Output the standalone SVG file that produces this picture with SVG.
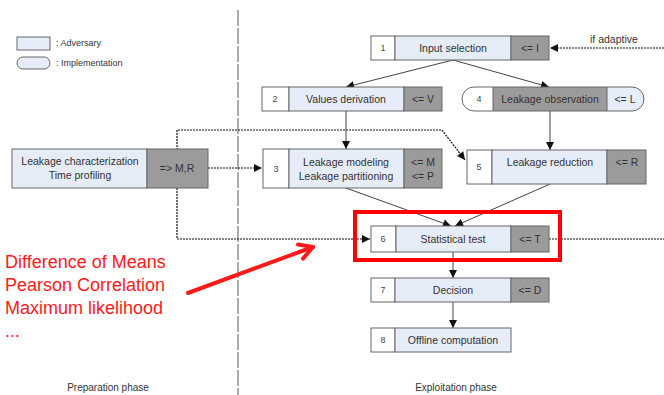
<svg xmlns="http://www.w3.org/2000/svg" width="664" height="395" viewBox="0 0 664 395">
<style>
text{font-family:"Liberation Sans",Arial,sans-serif;fill:#333}
.s{stroke:#666;stroke-width:1}
.w{fill:#fff}
.lt{fill:#e6ecf8}
.dk{fill:#9b9b9b}
.lbl{font-size:10.5px;text-anchor:middle}
.n{font-size:9px;text-anchor:middle;fill:#444}
.ln{stroke:#444;stroke-width:1;fill:none}
.dot{stroke:#111;stroke-width:1.2;stroke-dasharray:2 1;fill:none}
.red{fill:#ff1a1a;font-size:18px}
</style>
<defs>
<marker id="ah" viewBox="0 0 10 10" refX="10" refY="5" markerWidth="9" markerHeight="8" markerUnits="userSpaceOnUse" orient="auto">
<path d="M0,0 L10,5 L0,10 z" fill="#111"/>
</marker>
<clipPath id="pill"><rect x="462" y="87" width="182" height="24" rx="12"/></clipPath>
</defs>

<line x1="238" y1="10" x2="238" y2="395" stroke="#aaa" stroke-width="2" stroke-dasharray="16 2"/>

<g id="legend">
<rect x="17" y="37" width="33" height="13" class="lt s"/>
<text x="56" y="46" font-size="9">: Adversary</text>
<rect x="17" y="57" width="33" height="12" rx="6" class="lt s"/>
<text x="56" y="66" font-size="9">: Implementation</text>
</g>

<g id="connectors">
<path class="dot" d="M177,150 V130 H442 L465,160" marker-end="url(#ah)"/>
<path class="dot" d="M177,188 V239 H370" marker-end="url(#ah)"/>
<path class="dot" d="M208,168 H262" marker-end="url(#ah)"/>
<path class="dot" d="M549,239 H664"/>
<path class="dot" d="M664,48 H550" marker-end="url(#ah)"/>
<line class="ln" x1="453" y1="60" x2="346" y2="87" marker-end="url(#ah)"/>
<line class="ln" x1="453" y1="60" x2="549" y2="87" marker-end="url(#ah)"/>
<line class="ln" x1="346" y1="111" x2="346" y2="149" marker-end="url(#ah)"/>
<line class="ln" x1="550" y1="111" x2="550" y2="150" marker-end="url(#ah)"/>
<line class="ln" x1="346" y1="188" x2="451" y2="226" marker-end="url(#ah)"/>
<line class="ln" x1="550" y1="184" x2="455" y2="226" marker-end="url(#ah)"/>
<line class="ln" x1="453" y1="252" x2="453" y2="278" marker-end="url(#ah)"/>
<line class="ln" x1="453" y1="302" x2="453" y2="328" marker-end="url(#ah)"/>
</g>

<g id="prep">
<rect x="12" y="149" width="135" height="39" class="lt s"/>
<rect x="147" y="149" width="61" height="39" class="dk s"/>
<text class="lbl" x="80" y="165">Leakage characterization</text>
<text class="lbl" x="80" y="179">Time profiling</text>
<text class="lbl" x="177" y="172" font-size="10">=&gt; M,R</text>
</g>

<g id="node1">
<rect x="371" y="36" width="24" height="24" class="w s"/>
<rect x="395" y="36" width="116" height="24" class="lt s"/>
<rect x="511" y="36" width="38" height="24" class="dk s"/>
<text class="n" x="383" y="51">1</text>
<text class="lbl" x="453" y="52">Input selection</text>
<text class="lbl" x="530" y="52">&lt;= I</text>
</g>
<text x="590" y="43" font-size="10.5">if adaptive</text>

<g id="node2">
<rect x="262" y="87" width="27" height="24" class="w s"/>
<rect x="289" y="87" width="115" height="24" class="lt s"/>
<rect x="404" y="87" width="38" height="24" class="dk s"/>
<text class="n" x="275" y="102">2</text>
<text class="lbl" x="346" y="103">Values derivation</text>
<text class="lbl" x="423" y="103">&lt;= V</text>
</g>

<g id="node4">
<g clip-path="url(#pill)">
<rect x="462" y="87" width="31" height="24" class="w"/>
<rect x="493" y="87" width="114" height="24" class="dk"/>
<rect x="607" y="87" width="37" height="24" class="lt"/>
</g>
<line x1="493" y1="87" x2="493" y2="111" class="s"/>
<line x1="607" y1="87" x2="607" y2="111" class="s"/>
<rect x="462" y="87" width="182" height="24" rx="12" fill="none" class="s"/>
<text class="n" x="479" y="102">4</text>
<text class="lbl" x="550" y="103">Leakage observation</text>
<text class="lbl" x="625" y="103">&lt;= L</text>
</g>

<g id="node3">
<rect x="263" y="149" width="26" height="39" class="w s"/>
<rect x="289" y="149" width="115" height="39" class="lt s"/>
<rect x="404" y="149" width="38" height="39" class="dk s"/>
<text class="n" x="276" y="172">3</text>
<text class="lbl" x="346" y="166">Leakage modeling</text>
<text class="lbl" x="346" y="180">Leakage partitioning</text>
<text class="lbl" x="423" y="166" font-size="9.5">&lt;= M</text>
<text class="lbl" x="423" y="180" font-size="9.5">&lt;= P</text>
</g>

<g id="node5">
<rect x="467" y="150" width="25" height="34" class="w s"/>
<rect x="492" y="150" width="115" height="34" class="lt s"/>
<rect x="607" y="150" width="39" height="34" class="dk s"/>
<text class="n" x="479" y="170">5</text>
<text class="lbl" x="550" y="166">Leakage reduction</text>
<text class="lbl" x="627" y="166">&lt;= R</text>
</g>

<g id="node6">
<rect x="371" y="226" width="25" height="26" class="w s"/>
<rect x="396" y="226" width="115" height="26" class="lt s"/>
<rect x="511" y="226" width="38" height="26" class="dk s"/>
<text class="n" x="383" y="242">6</text>
<text class="lbl" x="453" y="243">Statistical test</text>
<text class="lbl" x="530" y="243">&lt;= T</text>
</g>
<rect x="355" y="212" width="205" height="48" fill="none" stroke="#ff0000" stroke-width="4"/>

<g id="node7">
<rect x="371" y="278" width="24" height="24" class="w s"/>
<rect x="395" y="278" width="116" height="24" class="lt s"/>
<rect x="511" y="278" width="38" height="24" class="dk s"/>
<text class="n" x="383" y="293">7</text>
<text class="lbl" x="453" y="294">Decision</text>
<text class="lbl" x="530" y="294">&lt;= D</text>
</g>

<g id="node8">
<rect x="371" y="328" width="24" height="24" class="w s"/>
<rect x="395" y="328" width="116" height="24" class="lt s"/>
<text class="n" x="383" y="343">8</text>
<text class="lbl" x="453" y="344">Offline computation</text>
</g>

<g id="annotation">
<text class="red" x="5" y="268">Difference of Means</text>
<text class="red" x="5" y="291">Pearson Correlation</text>
<text class="red" x="5" y="314">Maximum likelihood</text>
<text class="red" x="5" y="337">...</text>
<line x1="188" y1="293" x2="313" y2="247" stroke="#ff1a1a" stroke-width="4" stroke-linecap="round"/>
<polyline points="298,244.5 313,247 303,258.6" fill="none" stroke="#ff1a1a" stroke-width="4" stroke-linecap="round" stroke-linejoin="round"/>
</g>

<text x="108" y="391" font-size="10" text-anchor="middle">Preparation  phase</text>
<text x="456" y="391" font-size="10" text-anchor="middle">Exploitation phase</text>
</svg>
